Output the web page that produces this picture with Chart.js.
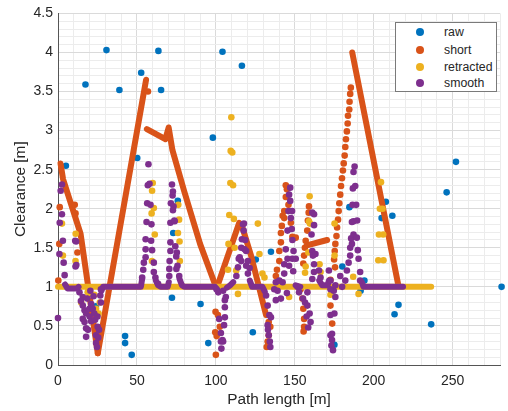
<!DOCTYPE html>
<html>
<head>
<meta charset="utf-8">
<script src="https://cdn.jsdelivr.net/npm/chart.js@4.4.1/dist/chart.umd.min.js"></script>
<style>
  body { margin: 0; background: #fff; }
  #wrap { position: relative; width: 508px; height: 411px; }
  #legendBox {
    position: absolute; left: 395px; top: 22px; width: 100px; height: 68px;
    border: 1px solid #7a7a7a; background: #fff;
    font-family: "Liberation Sans", Arial, sans-serif; font-size: 12.3px; color: #262626;
  }
  .lg-row { position: absolute; left: 0; height: 16px; line-height: 16px; }
  .lg-dot { position: absolute; left: 20px; top: 4px; width: 8px; height: 8px; border-radius: 50%; }
  .lg-txt { position: absolute; left: 48px; top: 0; white-space: nowrap; }
</style>
</head>
<body>
<div id="wrap">
  <canvas id="chart" width="508" height="411"></canvas>
  <div id="legendBox"></div>
</div>
<script>
// ---- axis ticks ----
const xLabelTicks = [0, 50, 100, 150, 200, 250];
const yLabelTicks = [0, 0.5, 1, 1.5, 2, 2.5, 3, 3.5, 4, 4.5];

const seriesNames = ['raw', 'short', 'retracted', 'smooth'];
const seriesColors = ['#0072BD', '#D95319', '#EDB120', '#7E2F8E'];

// ---- raw ----
const rawPts = [[30.7,4.03],[17.4,3.59],[38.9,3.52],[52.7,3.74],[63.6,4.02],[65.3,3.52],[50.2,2.65],[5.0,2.55],
  [98.1,2.91],[104.2,4.01],[116.5,3.83],[75.9,2.10],[73.0,1.69],[72.2,0.86],[42.5,0.37],[42.5,0.28],[46.7,0.13],
  [90.3,0.78],[95.2,0.28],[123.4,0.42],[125.3,1.35],[134.9,1.45],[24.0,0.75],[180.1,1.26],[184.6,2.02],[207.7,2.09],
  [211.8,1.91],[205.0,1.88],[194.1,1.08],[191.7,0.95],[215.7,0.77],[213.2,0.65],[236.4,0.52],[246.2,2.21],
  [252.1,2.60],[281,1.0],[175.1,0.26]];

// ---- short: dense runs (drawn as thick lines) ----
const shortRunA = [[1.6,2.58],[3.2,2.38],[14.3,1.68],[25.2,0.15]];
const shortRunB = [[25.2,0.15],[55.8,3.65]];
const shortRunC = [[56.3,3.02],[68,2.89],[70.1,3.04],[72.5,2.75],[80,2.22],[90,1.55],[99.5,1.03]];
const shortRunD = [[101.5,1.04],[114.8,1.82],[117,1.75],[122.3,1.40],[131.8,0.64]];
const shortRunE = [[157.6,1.53],[170.5,1.60]];
const shortRunF = [[186.4,4.0],[215.6,1.02]];
// ---- short: single points ----
const shortPts = [[1.1,2.02],[0.8,1.55],[0.2,1.08],[10.6,2.05],[11.1,1.94],[12.3,1.44],[57,3.50],
  [99.8,0.68],[101.3,0.64],[102.5,0.49],[99.6,0.42],[100.5,0.37],[100,0.13],
  [133.5,0.55],[134.5,0.49],[133.5,0.38],[132.8,0.30],[132.2,0.23],
  [138,1.14],[138.7,1.22],[140.2,1.33],[140.2,1.46],[141.2,1.57],[141.2,1.69],[141.8,1.78],[142.3,1.91],
  [143.3,1.97],[143.3,1.88],[144.3,2.15],[145,2.25],[144.3,2.30],[146,2.05],[147.5,1.82],[148.5,1.64],[150.6,1.63],
  [153.7,0.97],[154.8,0.85],[155.4,0.72],[155.9,0.59],[155.9,0.49],[155.6,0.43],
  [159,2.03],[158.8,1.95],[158.3,1.85],[157.9,1.72],[156.9,1.59],[156.4,1.50],[155.9,1.40],[155.4,1.30],
  [172.6,0.76],[173.7,0.53],[172.6,1.09],[175.5,1.25],[174.9,1.35],[175.3,1.46],[175.7,1.55],[176.4,1.65],
  [176.8,1.76],[177.4,1.86],[177.8,1.97],[178.2,2.07],[178.8,2.18],[179.3,2.29],[179.9,2.39],[180.5,2.49],
  [181.0,2.58],[181.6,2.68],[182.0,2.79],[182.4,2.89],[183.0,2.99],[183.5,3.09],[183.7,3.19],[184.5,3.27],
  [184.7,3.37],[185.1,3.47],[185.5,3.55]];

// ---- retracted ----
const retractedRun = [[0,1.0],[236.4,1.0]];
const retractedPts = [[60.0,2.33],[59.6,2.23],[109.8,3.17],[109.4,2.74],[110.4,2.72],[109.2,2.33],[110.9,2.30],
  [159.4,2.16],[204.6,2.34],[2.5,1.81],[3.1,1.40],[11.2,1.68],[11.1,1.33],[60.7,2.01],[59.3,1.94],[61.3,1.67],
  [59.5,1.33],[76.2,2.05],[76.7,1.86],[76.0,1.69],[77.0,1.58],[77.2,1.33],[108.5,1.92],[111.4,1.87],[108,1.55],
  [111.9,1.50],[112.9,1.21],[114,0.91],[107.7,1.22],[126.6,1.81],[127.6,1.42],[129.5,1.17],[130.8,1.12],
  [146.4,0.87],[159,1.84],[159.6,1.81],[158.6,1.44],[156.9,1.26],[156.5,1.18],[165.7,1.29],[166.3,1.19],
  [175.2,1.81],[175.2,1.40],[172.6,0.90],[203.9,2.0],[205.6,2.0],[203.3,1.67],[206,1.67],[202.9,1.34],
  [206.2,1.34],[187.0,1.13],[190.4,0.91],[14.7,0.80],[24.1,0.72],[25.7,0.66],[18.8,0.93],[21,0.9],[23,0.9],[26.5,0.8]];

// ---- smooth: dense runs ----
const smoothRunA = [[4.5,1.03],[6,0.98],[12,0.98],[13,1.0]];
const smoothRunB = [[27.5,0.95],[28.5,1.0],[52.5,1.0],[53.3,1.1]];
const smoothRunC = [[62,1.08],[63.5,1.02],[65,1.0],[69.5,1.0],[70.2,1.06]];
const smoothRunD = [[77,1.1],[78.5,1.02],[80,1.0],[99.5,1.0],[101,0.96]];
const smoothRunE = [[107,0.99],[109,1.02],[111,1.06]];
const smoothRunF = [[121.5,1.08],[123,1.0],[129.5,1.0],[131,0.94]];
const smoothRunG = [[150.5,1.02],[153.5,1.0]];
const smoothRunH = [[165.5,1.08],[167.4,1.02],[170.8,1.02],[171.6,1.08]];
const smoothRunI = [[192.5,1.06],[193.5,1.0],[218.6,1.0]];
// ---- smooth: single points ----
const smoothPts = [[2.5,2.31],[1.7,2.23],[2.5,1.93],[1.1,1.82],[3.1,1.59],[0.9,1.42],[3.6,1.31],[4.2,1.15],
  [10.9,1.59],[11.5,1.58],[11.1,1.26],[11.6,1.28],[0,0.60],
  [13.6,0.93],[15.7,0.87],[14.5,0.82],[15.7,0.76],[16.8,0.70],[17.8,0.66],[15.7,0.59],[16.8,0.55],[17.8,0.47],
  [17.8,0.36],[19.9,0.72],[21,0.78],[22,0.72],[23,0.66],[20,0.62],[21,0.56],[23.5,0.58],[25.1,0.49],[24.1,0.38],
  [24.1,0.28],[24.7,0.23],[25.5,0.35],[26,0.45],[27.2,0.80],[26.8,0.89],[27.2,0.97],[18.5,0.85],[20.5,0.95],
  [22.5,0.88],[19,0.45],[25,0.62],
  [53.3,1.12],[54,1.22],[54.4,1.31],[55.5,1.38],[55.5,1.48],[55.5,1.61],[56.1,1.83],[56.5,2.07],[58.6,2.05],
  [59.2,1.80],[59,1.59],[59.6,1.47],[60.7,1.31],[60.7,1.19],[61.7,1.12],[63.4,1.04],[57.3,2.57],[56.9,2.30],[58,2.32],
  [70.5,1.14],[70.5,1.23],[70.7,1.33],[71.2,1.46],[71.2,1.57],[71.2,1.82],[71.5,2.07],[72.6,2.17],[73.2,2.03],
  [73.9,1.84],[74.3,1.52],[74.9,1.39],[75.3,1.44],[75.7,1.27],[76.8,1.14],[72.2,2.31],[72.8,2.22],[72.8,1.98],
  [73.7,1.85],[75,1.23],
  [101.5,0.93],[104.6,0.95],[105.7,0.83],[106.3,0.87],[105.7,0.74],[102.1,0.59],[105.7,0.61],[105.2,0.51],
  [103.2,0.41],[104.2,0.32],[103.2,0.30],[104.6,0.30],[103.5,0.21],[100.4,0.97],
  [113,1.14],[114,1.25],[114.5,1.36],[116.1,1.50],[116.5,1.61],[117.6,1.72],[117.8,1.81],[117.2,1.80],[118.6,1.60],
  [119.2,1.46],[120.3,1.33],[121.4,1.24],[115.1,1.38],[116.1,1.33],[119.2,1.27],[120.3,1.17],[118.2,1.48],
  [131.8,0.89],[132.8,0.76],[133.9,0.64],[134.9,0.61],[132.8,0.51],[133.5,0.38],[134.5,0.23],[134.2,0.30],[133,0.45],
  [137,0.97],[138,1.06],[140.2,1.08],[139.1,0.95],[138,0.83],[141.2,0.85],[142.3,1.06],[143.3,1.17],[143.3,1.29],
  [146.4,1.27],[150.6,1.36],[147.1,2.27],[147.1,2.10],[146,1.97],[148.3,1.97],[145.4,1.72],[148.1,1.74],
  [148.5,1.60],[144.3,1.48],[149.2,1.46],[145.4,1.36],[148.5,1.36],[146.4,2.18],[147.5,1.88],[149,1.2],[145,0.92],
  [151.7,1.0],[152.7,0.93],[155.2,0.85],[156.5,0.80],[158,0.76],[159.4,0.66],[160,0.55],[158,0.93],[161.1,1.10],
  [162.2,1.19],[161.1,1.95],[162.2,1.79],[160.6,1.67],[161.1,1.46],[161.5,1.40],[162.2,1.93],[163.1,1.42],
  [162.2,1.29],[165.3,1.21],[166.3,1.12],[157.5,0.62],[158.5,0.48],
  [171.6,1.21],[172.6,1.08],[174.7,0.95],[175.7,0.87],[175.1,0.66],[172.6,0.64],[173.6,0.40],[172.6,0.38],
  [173.6,0.32],[173.2,0.25],[174.2,0.19],[172.6,0.97],[175.7,1.02],
  [178.8,1.14],[180,1.0],[182,1.08],[183,1.21],[184.1,1.31],[185.1,1.40],[185.1,1.50],[186.2,1.55],[185.7,1.62],
  [187.2,1.67],[187.2,1.84],[186.2,1.83],[186.6,2.05],[188.9,2.05],[189.3,1.63],[189.9,1.47],[190.4,1.36],
  [191.4,1.19],[191.4,1.08],[187.9,2.54],[187.2,2.47],[188.3,2.29],[186.8,2.26],[189.5,1.85]];

function toXY(pts) {
  return pts.map(p => ({ x: p[0], y: p[1] }));
}

function dots(label, pts, color, order) {
  return {
    label: label, data: toXY(pts), order: order, clip: false,
    backgroundColor: color, borderColor: color,
    pointRadius: 3.3, pointBorderWidth: 0, showLine: false
  };
}

function run(label, pts, color, order) {
  return {
    label: label, data: toXY(pts), order: order, clip: false,
    borderColor: color, borderWidth: 6, borderCapStyle: 'round', borderJoinStyle: 'round',
    pointRadius: 0, showLine: true, fill: false
  };
}

const C = seriesColors;
const datasets = [
  dots('raw', rawPts, C[0], 4),
  dots('short', shortPts, C[1], 3),
  run('short', shortRunA, C[1], 3),
  run('short', shortRunB, C[1], 3),
  run('short', shortRunC, C[1], 3),
  run('short', shortRunD, C[1], 3),
  run('short', shortRunE, C[1], 3),
  run('short', shortRunF, C[1], 3),
  dots('retracted', retractedPts, C[2], 2),
  run('retracted', retractedRun, C[2], 2),
  dots('smooth', smoothPts, C[3], 1),
  run('smooth', smoothRunA, C[3], 1),
  run('smooth', smoothRunB, C[3], 1),
  run('smooth', smoothRunC, C[3], 1),
  run('smooth', smoothRunD, C[3], 1),
  run('smooth', smoothRunE, C[3], 1),
  run('smooth', smoothRunF, C[3], 1),
  run('smooth', smoothRunG, C[3], 1),
  run('smooth', smoothRunH, C[3], 1),
  run('smooth', smoothRunI, C[3], 1)
];

const isMajor = (v, step) => Math.abs(v / step - Math.round(v / step)) < 1e-6;
const textColor = '#262626';
const fontFamily = '"Liberation Sans", Arial, sans-serif';

new Chart(document.getElementById('chart'), {
  type: 'scatter',
  data: { datasets: datasets },
  options: {
    responsive: false,
    animation: false,
    layout: { padding: { left: 0, right: 3.5, top: 11, bottom: 0 } },
    plugins: { legend: { display: false }, tooltip: { enabled: false } },
    scales: {
      x: {
        type: 'linear', min: 0, max: 280,
        afterFit: (s) => { s.height = 46; },
        ticks: {
          stepSize: 10, autoSkip: false, maxRotation: 0, padding: 8,
          color: textColor, font: { family: fontFamily, size: 14 },
          callback: (v) => xLabelTicks.includes(Math.round(v)) && isMajor(v, 50) ? String(Math.round(v)) : ''
        },
        grid: {
          drawTicks: false,
          color: (ctx) => isMajor(ctx.tick.value, 50) ? '#dadada' : '#ececec'
        },
        border: { color: '#555555', width: 1 },
        title: {
          display: true, text: 'Path length [m]', color: textColor,
          font: { family: fontFamily, size: 15.4 }, padding: { top: 0, bottom: 2 }
        }
      },
      y: {
        type: 'linear', min: 0, max: 4.5,
        afterFit: (s) => { s.width = 58; },
        ticks: {
          stepSize: 0.1, autoSkip: false, padding: 5,
          color: textColor, font: { family: fontFamily, size: 14 },
          callback: (v) => {
            const r = Math.round(v * 10) / 10;
            return isMajor(v, 0.5) && yLabelTicks.includes(r) ? String(r) : '';
          }
        },
        grid: {
          drawTicks: false,
          color: (ctx) => isMajor(ctx.tick.value, 0.5) ? '#dadada' : '#ececec'
        },
        border: { color: '#555555', width: 1 },
        title: {
          display: true, text: 'Clearance [m]', color: textColor,
          font: { family: fontFamily, size: 15.4 }, padding: { top: 12, bottom: 0 }
        }
      }
    }
  }
});

// legend (inside the axes, top right)
const legendBox = document.getElementById('legendBox');
const rowTops = [1.3, 19, 35.7, 52.3];
seriesNames.forEach((name, i) => {
  const row = document.createElement('div');
  row.className = 'lg-row';
  row.style.top = rowTops[i] + 'px';
  row.style.width = '100%';
  row.innerHTML = '<span class="lg-dot" style="background:' + seriesColors[i] + '"></span>' +
    '<span class="lg-txt">' + name + '</span>';
  legendBox.appendChild(row);
});
</script>
</body>
</html>
